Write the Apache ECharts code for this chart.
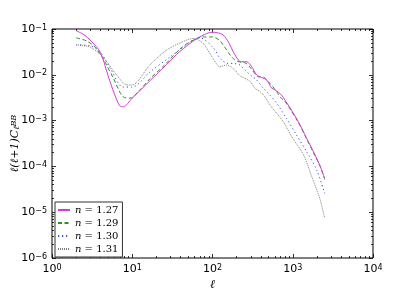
<!DOCTYPE html>
<html>
<head>
<meta charset="utf-8">
<script src="https://cdn.jsdelivr.net/npm/echarts@6/dist/echarts.min.js"></script>
<style>
  html, body { margin: 0; padding: 0; background: #fff; }
  #main { width: 415px; height: 288px; }
</style>
</head>
<body>
<div id="main"></div>
<script>
// legend names
var seriesNames = ['1.27', '1.29', '1.30', '1.31'];

// multipole l and l(l+1)C_l^BB
var ell127 = [2, 2.5, 3, 4, 5, 6, 7, 7.7, 10, 16.6, 27, 39, 64, 85, 98, 115, 136, 160, 181, 210, 230, 267, 308, 355, 410, 473, 547, 601, 728, 800, 925, 1170, 1490, 1890, 2200, 2500];
var cl127 = [0.092, 0.075, 0.057, 0.031, 0.0095, 0.0038, 0.0021, 0.002, 0.0031, 0.0074, 0.017, 0.032, 0.062, 0.08, 0.085, 0.083, 0.074, 0.05, 0.032, 0.021, 0.0193, 0.0193, 0.015, 0.0099, 0.0087, 0.0077, 0.0051, 0.0047, 0.0036, 0.0028, 0.0019, 0.00096, 0.00041, 0.00018, 0.0001, 0.000055];

var ell129 = [2, 2.7, 3.4, 4.3, 5.8, 7.7, 9.4, 12.5, 16.6, 25, 39, 52, 76, 100, 120, 136, 166, 190, 220, 260, 300, 371, 430, 496, 630, 695, 800, 925, 1170, 1490, 1890, 2200, 2500];
var cl129 = [0.064, 0.055, 0.041, 0.023, 0.0085, 0.0033, 0.0031, 0.0047, 0.0082, 0.016, 0.036, 0.052, 0.067, 0.067, 0.058, 0.045, 0.027, 0.021, 0.019, 0.018, 0.014, 0.0091, 0.0089, 0.0071, 0.0043, 0.0033, 0.0026, 0.0018, 0.00092, 0.0004, 0.00017, 0.0001, 0.000052];

var ell130 = [2, 3, 4, 5.3, 7.7, 9.9, 16.6, 29.5, 57, 70, 101, 124, 150, 190, 220, 253, 295, 355, 430, 520, 630, 840, 1110, 1490, 1990, 2500];
var cl130 = [0.045, 0.043, 0.031, 0.014, 0.0054, 0.0054, 0.0115, 0.0245, 0.057, 0.064, 0.04, 0.023, 0.018, 0.0175, 0.0164, 0.0127, 0.01, 0.0077, 0.0051, 0.0036, 0.0024, 0.0011, 0.00049, 0.00021, 0.000083, 0.000026];

var ell131 = [2, 3, 4.3, 6.4, 8.6, 9.9, 16.6, 27, 43, 57, 76, 101, 124, 150, 180, 220, 253, 295, 337, 390, 450, 520, 630, 760, 1000, 1360, 1790, 2170, 2500];
var cl131 = [0.045, 0.04, 0.0245, 0.0099, 0.006, 0.006, 0.0164, 0.035, 0.053, 0.062, 0.049, 0.023, 0.015, 0.0164, 0.0139, 0.0095, 0.0084, 0.0071, 0.0051, 0.0043, 0.0033, 0.0022, 0.00145, 0.00095, 0.00041, 0.00018, 0.00005, 0.00002, 0.0000074];

// tick exponents
var xExp = [0, 1, 2, 3, 4];
var yExp = [-6, -5, -4, -3, -2, -1];

function pairs(xs, ys) {
    return xs.map(function (x, i) { return [x, ys[i]]; });
}
function minorTicks(exps) {
    var out = [];
    for (var i = 0; i < exps.length - 1; i++) {
        for (var k = 2; k <= 9; k++) out.push(k * Math.pow(10, exps[i]));
    }
    return out;
}
function expLabel(v) {
    var e = Math.round(Math.log10(v));
    return '{b|10}{s|' + String(e).replace('-', '\u2212') + '}';
}

var tickRich = {
    b: { fontFamily: 'DejaVu Sans', fontSize: 11, color: '#000', verticalAlign: 'bottom' },
    s: { fontFamily: 'DejaVu Sans', fontSize: 8, color: '#000', verticalAlign: 'top' }
};

var xMin = Math.pow(10, xExp[0]), xMax = Math.pow(10, xExp[xExp.length - 1]);
var yMin = Math.pow(10, yExp[0]), yMax = Math.pow(10, yExp[yExp.length - 1]);

function xAxisDef(pos, minor, labels) {
    return {
        type: 'log', logBase: 10, min: xMin, max: xMax, position: pos,
        axisLine: { show: false },
        splitLine: { show: false },
        axisTick: minor
            ? { show: true, inside: true, length: 2, lineStyle: { color: '#000', width: 0.8 }, customValues: minorTicks(xExp) }
            : { show: true, inside: true, length: 4, lineStyle: { color: '#000', width: 0.8 } },
        axisLabel: labels
            ? { show: true, margin: 6, formatter: expLabel, rich: tickRich }
            : { show: false },
        name: labels ? '\u2113' : '',
        nameLocation: 'middle', nameGap: 21, nameMoveOverlap: false,
        nameTextStyle: { fontFamily: 'DejaVu Serif', fontStyle: 'italic', fontSize: 12, color: '#000' }
    };
}
function yAxisDef(pos, minor, labels) {
    return {
        type: 'log', logBase: 10, min: yMin, max: yMax, position: pos,
        axisLine: { show: false },
        splitLine: { show: false },
        axisTick: minor
            ? { show: true, inside: true, length: 2, lineStyle: { color: '#000', width: 0.8 }, customValues: minorTicks(yExp) }
            : { show: true, inside: true, length: 4, lineStyle: { color: '#000', width: 0.8 } },
        axisLabel: labels
            ? { show: true, margin: 5, formatter: expLabel, rich: tickRich }
            : { show: false },
        name: labels ? '{t|\u2113(\u2113+1)}{c|C}{sub|\u2113}{sup|BB}' : '',
        nameLocation: 'middle', nameGap: 31, nameRotate: 90, nameMoveOverlap: false,
        nameTextStyle: {
            color: '#000',
            rich: {
                t: { fontFamily: 'DejaVu Serif', fontStyle: 'italic', fontSize: 11, verticalAlign: 'bottom' },
                c: { fontFamily: 'DejaVu Serif', fontStyle: 'italic', fontSize: 11, verticalAlign: 'bottom' },
                sub: { fontFamily: 'DejaVu Serif', fontStyle: 'italic', fontSize: 8, verticalAlign: 'bottom' },
                sup: { fontFamily: 'DejaVu Serif', fontStyle: 'italic', fontSize: 8, verticalAlign: 'top' }
            }
        }
    };
}

var colors = ['#d63ad6', '#2e8f2e', '#3a4cf5', '#808080'];
var dashes = ['solid', [4, 2.5], [1.2, 2.8], [1, 1]];
var datasets = [pairs(ell127, cl127), pairs(ell129, cl129), pairs(ell130, cl130), pairs(ell131, cl131)];

var option = {
    animation: false,
    backgroundColor: '#fff',
    grid: {
        left: 52, right: 42, top: 29, bottom: 30,
        containLabel: false, outerBoundsMode: 'none',
        show: true, borderColor: '#000', borderWidth: 1, backgroundColor: 'transparent'
    },
    legend: {
        orient: 'vertical', left: 55, top: 202,
        itemWidth: 12, itemHeight: 10, itemGap: 3,
        padding: [3, 4, 3, 2],
        borderColor: '#333', borderWidth: 1, borderRadius: 0,
        backgroundColor: '#fff',
        itemStyle: { opacity: 0 },
        data: seriesNames,
        formatter: function (name) { return '{i|n}{t| = ' + name + '}'; },
        textStyle: {
            color: '#000',
            rich: {
                i: { fontFamily: 'DejaVu Serif', fontStyle: 'italic', fontSize: 10 },
                t: { fontFamily: 'DejaVu Serif', fontSize: 10 }
            }
        }
    },
    xAxis: [
        xAxisDef('bottom', false, true),
        xAxisDef('bottom', true, false),
        xAxisDef('top', false, false),
        xAxisDef('top', true, false)
    ],
    yAxis: [
        yAxisDef('left', false, true),
        yAxisDef('left', true, false),
        yAxisDef('right', false, false),
        yAxisDef('right', true, false)
    ],
    series: seriesNames.map(function (n, i) {
        return {
            name: n, type: 'line', xAxisIndex: 0, yAxisIndex: 0,
            data: datasets[i],
            symbol: 'none', smooth: 0.3,
            lineStyle: { color: colors[i], width: 1, type: dashes[i] },
            itemStyle: { color: colors[i] },
            z: 10 - i
        };
    })
};

var chart = echarts.init(document.getElementById('main'));
chart.setOption(option);
</script>
</body>
</html>
